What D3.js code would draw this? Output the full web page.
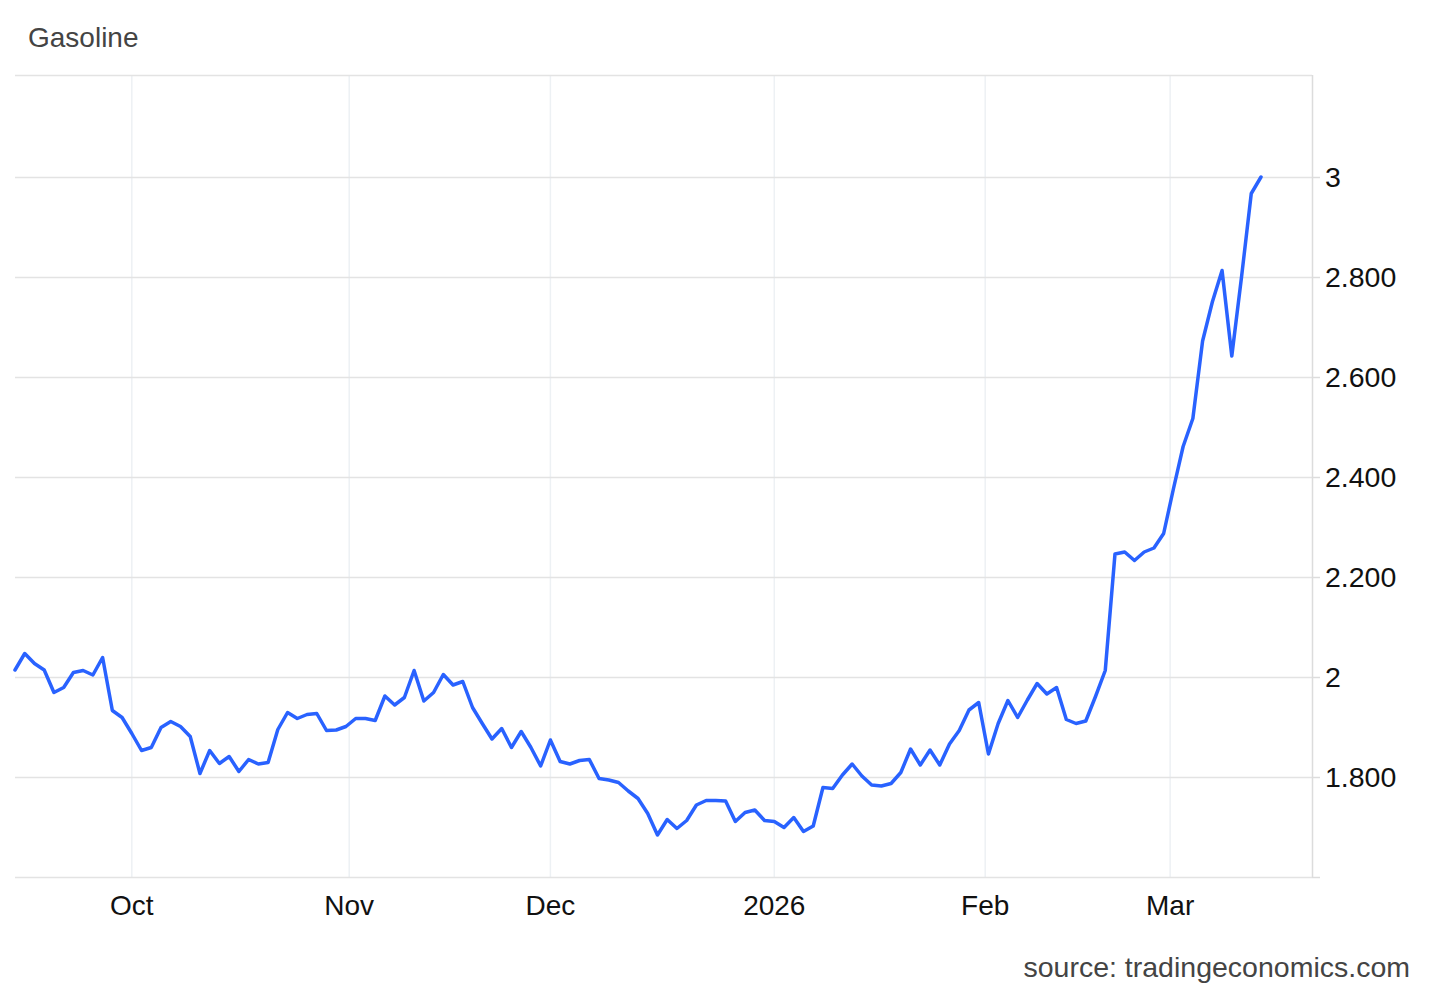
<!DOCTYPE html>
<html>
<head>
<meta charset="utf-8">
<script src="https://cdn.jsdelivr.net/npm/d3@7"></script>
<style>
  body { margin: 0; background: #fff; }
  svg { display: block; font-family: Arial, 'Liberation Sans', sans-serif; }
</style>
</head>
<body>
<div id="chart"></div>
<script>
// trading days shown on the chart (ordinal x axis, weekends skipped)
const dates = [
  '2025-09-15','2025-09-16','2025-09-17','2025-09-18','2025-09-19','2025-09-22','2025-09-23','2025-09-24','2025-09-25','2025-09-26','2025-09-29','2025-09-30',
  '2025-10-01','2025-10-02','2025-10-03','2025-10-06','2025-10-07','2025-10-08','2025-10-09','2025-10-10','2025-10-13','2025-10-14','2025-10-15','2025-10-16',
  '2025-10-17','2025-10-20','2025-10-21','2025-10-22','2025-10-23','2025-10-24','2025-10-27','2025-10-28','2025-10-29','2025-10-30','2025-10-31',
  '2025-11-03','2025-11-04','2025-11-05','2025-11-06','2025-11-07','2025-11-10','2025-11-11','2025-11-12','2025-11-13','2025-11-14','2025-11-17','2025-11-18',
  '2025-11-19','2025-11-20','2025-11-21','2025-11-24','2025-11-25','2025-11-26','2025-11-27','2025-11-28',
  '2025-12-01','2025-12-02','2025-12-03','2025-12-04','2025-12-05','2025-12-08','2025-12-09','2025-12-10','2025-12-11','2025-12-12','2025-12-15','2025-12-16',
  '2025-12-17','2025-12-18','2025-12-19','2025-12-22','2025-12-23','2025-12-24','2025-12-25','2025-12-26','2025-12-29','2025-12-30','2025-12-31',
  '2026-01-01','2026-01-02','2026-01-05','2026-01-06','2026-01-07','2026-01-08','2026-01-09','2026-01-12','2026-01-13','2026-01-14','2026-01-15','2026-01-16',
  '2026-01-19','2026-01-20','2026-01-21','2026-01-22','2026-01-23','2026-01-26','2026-01-27','2026-01-28','2026-01-29','2026-01-30',
  '2026-02-02','2026-02-03','2026-02-04','2026-02-05','2026-02-06','2026-02-09','2026-02-10','2026-02-11','2026-02-12','2026-02-13','2026-02-17','2026-02-18',
  '2026-02-19','2026-02-20','2026-02-23','2026-02-24','2026-02-25','2026-02-26','2026-02-27',
  '2026-03-02','2026-03-03','2026-03-04','2026-03-05','2026-03-06','2026-03-09','2026-03-10','2026-03-11','2026-03-12','2026-03-13'
];

// gasoline price, USD/gal
const prices = [
  2.014, 2.047, 2.027, 2.014, 1.969, 1.979, 2.009, 2.013, 2.004, 2.039, 1.933, 1.919,
  1.887, 1.853, 1.859, 1.899, 1.911, 1.901, 1.881, 1.807, 1.853, 1.827, 1.841, 1.811,
  1.835, 1.826, 1.829, 1.895, 1.929, 1.917, 1.925, 1.927, 1.893, 1.894, 1.901,
  1.917, 1.917, 1.913, 1.962, 1.944, 1.959, 2.013, 1.952, 1.969, 2.005, 1.984,
  1.991, 1.939, 1.907, 1.876, 1.897, 1.859, 1.891, 1.859, 1.822,
  1.874, 1.831, 1.826, 1.833, 1.835, 1.797, 1.794, 1.789, 1.772, 1.757, 1.727, 1.684,
  1.715, 1.697, 1.713, 1.744, 1.753, 1.753, 1.752, 1.711, 1.729, 1.734, 1.713,
  1.711, 1.699, 1.719, 1.691, 1.702, 1.779, 1.777, 1.804, 1.826, 1.802, 1.784, 1.782,
  1.787, 1.809, 1.856, 1.824, 1.854, 1.824, 1.866, 1.893, 1.934, 1.949,
  1.846, 1.907, 1.953, 1.919, 1.954, 1.987, 1.966, 1.979, 1.915, 1.907, 1.912, 1.961,
  2.013, 2.246, 2.250, 2.233, 2.250, 2.258, 2.287,
  2.376, 2.461, 2.517, 2.672, 2.750, 2.813, 2.642, 2.800, 2.967, 3.000
];

const monthTicks = ['2025-10-01', '2025-11-01', '2025-12-01', '2026-01-01', '2026-02-01', '2026-03-01'];
const monthLabels = ['Oct', 'Nov', 'Dec', '2026', 'Feb', 'Mar'];

const yTicks = [1.8, 2, 2.2, 2.4, 2.6, 2.8, 3];
const yLabels = ['1.800', '2', '2.200', '2.400', '2.600', '2.800', '3'];

const width = 1430, height = 991;
const plotLeft = 15, plotRight = 1312, plotTop = 75, plotBottom = 877;

const parse = d3.timeParse('%Y-%m-%d');
const data = dates.map((d, i) => ({ date: parse(d), value: prices[i] }));

// ordinal axis: date -> fractional position among trading days
const ordinal = d3.scaleLinear()
    .domain(data.map(d => d.date))
    .range(d3.range(data.length));

const x = d3.scaleLinear()
    .domain([0, data.length - 1])
    .range([plotLeft, 1261]);

const y = d3.scaleLinear()
    .domain([1.6, 3.204])
    .range([plotBottom, plotTop]);

const svg = d3.select('#chart').append('svg')
    .attr('width', width)
    .attr('height', height);

svg.append('text')
    .attr('x', 28)
    .attr('y', 47)
    .attr('fill', '#444')
    .style('font-size', '28px')
    .text('Gasoline');

// vertical grid
svg.append('g')
    .selectAll('line')
    .data(monthTicks)
    .join('line')
    .attr('x1', d => x(ordinal(parse(d))))
    .attr('x2', d => x(ordinal(parse(d))))
    .attr('y1', plotTop)
    .attr('y2', plotBottom)
    .attr('stroke', '#edf1f4')
    .attr('stroke-width', 1.5);

// horizontal grid
svg.append('g')
    .selectAll('line')
    .data(yTicks.concat([1.6, 3.204]))
    .join('line')
    .attr('x1', plotLeft)
    .attr('x2', plotRight)
    .attr('y1', d => Math.round(y(d)) + 0.5)
    .attr('y2', d => Math.round(y(d)) + 0.5)
    .attr('stroke', '#e3e3e3')
    .attr('stroke-width', 1.5);

// right axis
const yAxis = svg.append('g')
    .attr('transform', `translate(${plotRight},0)`)
    .call(d3.axisRight(y)
        .tickValues(yTicks.concat([1.6]))
        .tickFormat(d => { const i = yTicks.indexOf(d); return i >= 0 ? yLabels[i] : ''; })
        .tickSize(8)
        .tickPadding(5));
yAxis.select('.domain').attr('stroke', '#dcdcdc').attr('stroke-width', 1.5)
    .attr('d', `M0.5,${plotTop}V${plotBottom}`);
yAxis.selectAll('.tick line').attr('stroke', '#dcdcdc').attr('stroke-width', 1.5);
yAxis.selectAll('.tick text')
    .attr('fill', '#111')
    .style('font-size', '28.5px')
    .style('font-family', 'Arial, "Liberation Sans", sans-serif');

// bottom labels
svg.append('g')
    .selectAll('text')
    .data(monthTicks)
    .join('text')
    .attr('x', d => x(ordinal(parse(d))))
    .attr('y', 915)
    .attr('text-anchor', 'middle')
    .attr('fill', '#111')
    .style('font-size', '28px')
    .text((d, i) => monthLabels[i]);

const line = d3.line()
    .x((d, i) => x(i))
    .y(d => y(d.value));

svg.append('path')
    .datum(data)
    .attr('fill', 'none')
    .attr('stroke', '#2962ff')
    .attr('stroke-width', 3.5)
    .attr('stroke-linejoin', 'round')
    .attr('stroke-linecap', 'round')
    .attr('d', line);

svg.append('text')
    .attr('x', 1410)
    .attr('y', 977)
    .attr('text-anchor', 'end')
    .attr('fill', '#444')
    .style('font-size', '28.5px')
    .text('source: tradingeconomics.com');
</script>
</body>
</html>
